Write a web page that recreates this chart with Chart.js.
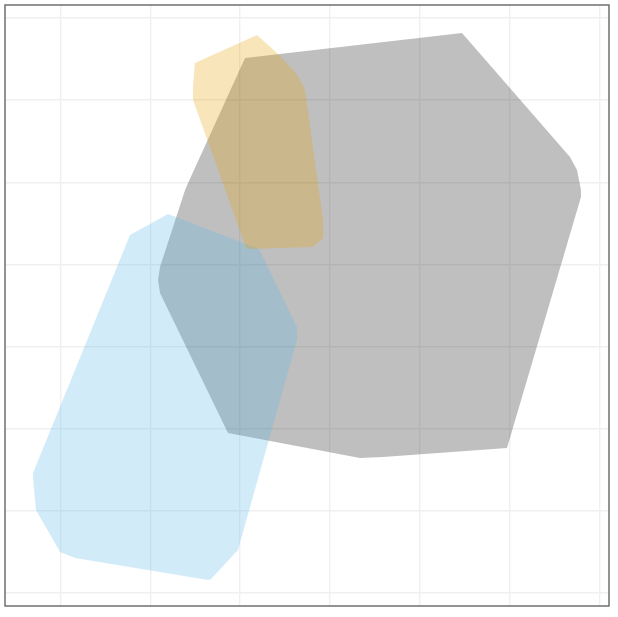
<!DOCTYPE html>
<html>
<head>
<meta charset="utf-8">
<script src="https://cdn.jsdelivr.net/npm/chart.js@4/dist/chart.umd.min.js"></script>
<style>
  html, body { margin: 0; padding: 0; background: #fff; }
  #wrap { width: 618px; height: 617px; }
</style>
</head>
<body>
<div id="wrap"><canvas id="hullChart"></canvas></div>
<script>
// Hull outlines (x, y in plot units), each closed back to its first point
const greyX = [2.056, 4.472, 5.675, 5.753, 5.797, 5.797, 4.973, 3.592, 3.336, 1.866, 1.109, 1.087, 1.109, 1.388, 1.432, 2.056];
const greyY = [6.511, 6.815, 5.307, 5.148, 4.905, 4.820, 1.766, 1.657, 1.645, 1.949, 3.652, 3.810, 3.968, 4.905, 5.015, 6.511];

const blueX = [1.199, 2.211, 2.634, 2.634, 1.977, 1.677, 1.644, 0.163, -0.004, -0.272, -0.305, -0.305, 0.775, 1.199];
const blueY = [4.613, 4.187, 3.238, 3.080, 0.525, 0.173, 0.161, 0.428, 0.501, 1.012, 1.401, 1.462, 4.358, 4.613];

const orangeX = [2.189, 1.498, 1.477, 1.477, 2.067, 2.089, 2.813, 2.924, 2.924, 2.724, 2.690, 2.612, 2.412, 2.189];
const orangeY = [6.791, 6.450, 6.183, 6.000, 4.199, 4.187, 4.212, 4.321, 4.540, 6.122, 6.207, 6.341, 6.572, 6.791];

// Gridline positions
const xTicks = [0, 1, 2, 3, 4, 5, 6];
const yTicks = [0, 1, 2, 3, 4, 5, 6, 7];

function toPoints(xs, ys) {
  return xs.map((x, i) => ({ x: x, y: ys[i] }));
}

function hull(label, xs, ys, color) {
  return {
    label: label,
    data: toPoints(xs, ys),
    showLine: true,
    fill: 'shape',
    backgroundColor: color,
    borderWidth: 0,
    borderColor: 'rgba(0,0,0,0)',
    pointRadius: 0,
    tension: 0
  };
}

// Panel border around the plotting area
const panelBorder = {
  id: 'panelBorder',
  afterDraw(chart) {
    const { ctx, chartArea } = chart;
    ctx.save();
    ctx.strokeStyle = '#666666';
    ctx.lineWidth = 1.4;
    ctx.strokeRect(chartArea.left, chartArea.top, chartArea.right - chartArea.left, chartArea.bottom - chartArea.top);
    ctx.restore();
  }
};

const ctx = document.getElementById('hullChart').getContext('2d');

new Chart(ctx, {
  type: 'scatter',
  data: {
    datasets: [
      hull('orange', orangeX, orangeY, 'rgba(230, 159, 0, 0.27)'),
      hull('blue', blueX, blueY, 'rgba(86, 180, 233, 0.27)'),
      hull('grey', greyX, greyY, 'rgba(0, 0, 0, 0.25)')
    ]
  },
  options: {
    responsive: true,
    maintainAspectRatio: false,
    animation: false,
    layout: { padding: { left: 5, top: 5, right: 9, bottom: 11 } },
    plugins: {
      legend: { display: false },
      tooltip: { enabled: false }
    },
    scales: {
      x: {
        type: 'linear',
        min: -0.617,
        max: 6.109,
        afterBuildTicks: (scale) => { scale.ticks = xTicks.map(v => ({ value: v })); },
        ticks: { display: false },
        grid: { color: '#f0f0f0', lineWidth: 1.4, drawTicks: false },
        border: { display: false }
      },
      y: {
        type: 'linear',
        min: -0.156,
        max: 7.156,
        afterBuildTicks: (scale) => { scale.ticks = yTicks.map(v => ({ value: v })); },
        ticks: { display: false },
        grid: { color: '#f0f0f0', lineWidth: 1.4, drawTicks: false },
        border: { display: false }
      }
    }
  },
  plugins: [panelBorder]
});
</script>
</body>
</html>
